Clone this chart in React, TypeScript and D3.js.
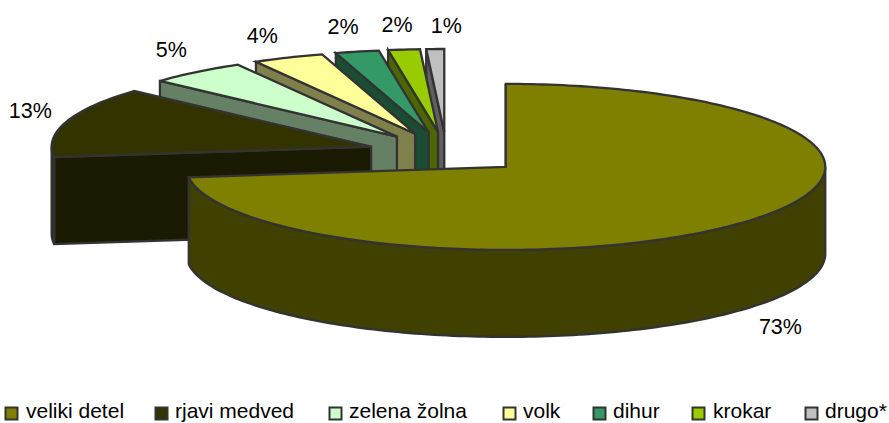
import * as d3 from "d3";

const categories = ["veliki detel", "rjavi medved", "zelena žolna", "volk", "dihur", "krokar", "drugo*"];
const shares = [73.0, 13.7, 5.0, 3.6, 2.2, 1.6, 0.9];
const pctLabels = ["73%", "13%", "5%", "4%", "2%", "2%", "1%"];
const topColors = ["#808000", "#333300", "#ccffcc", "#ffff99", "#339966", "#99cc00", "#c0c0c0"];

// label nudges away from the rim, per slice
const labelNudge = [[35, 18], [-36, -11], [-25, -22], [-26, -22], [-14, -25], [-7, -25], [11, -23]];
const legendSwatchX = [5, 155, 329, 503, 593, 692, 805];
const legendTextX = [26, 175, 349, 523, 613, 713, 825];

const WIDTH = 889;
const HEIGHT = 423;
const RX = 319.5;
const RY = 83;
const DEPTH = 87;
const CENTER = { x: 446.5, y: 153 };
const EXPLODE = { x: 79, y: 21 };
const FONT = "'Liberation Sans', Arial, sans-serif";
const STROKE = "#333333";

const xRim = d3.scaleLinear().domain([-1, 1]).range([-RX, RX]);
const yRim = d3.scaleLinear().domain([-1, 1]).range([-RY, RY]);

const pieGen = d3.pie<number>().sort(null).startAngle(0).endAngle(2 * Math.PI);
const linePath = d3.line<[number, number]>();

function shade(color: string) {
  const c = d3.rgb(color);
  return d3.rgb(c.r * 0.5, c.g * 0.5, c.b * 0.5).formatHex();
}

function rimPoint(apex: { x: number; y: number }, a: number): [number, number] {
  return [apex.x + xRim(Math.sin(a)), apex.y + yRim(-Math.cos(a))];
}

function rimSamples(apex: { x: number; y: number }, a0: number, a1: number) {
  const n = Math.max(2, Math.ceil((a1 - a0) / 0.02));
  return d3.range(n + 1).map((i) => rimPoint(apex, a0 + ((a1 - a0) * i) / n));
}

function down(p: [number, number]): [number, number] {
  return [p[0], p[1] + DEPTH];
}

export default function App() {
  const slices = pieGen(shares).map((s, i) => {
    const mid = (s.startAngle + s.endAngle) / 2;
    const apex = {
      x: CENTER.x + EXPLODE.x * Math.sin(mid),
      y: CENTER.y - EXPLODE.y * Math.cos(mid),
    };
    const rim = rimSamples(apex, s.startAngle, s.endAngle);
    const apexPt: [number, number] = [apex.x, apex.y];

    // outer wall only shows on the front half of the ellipse
    const f0 = Math.max(s.startAngle, Math.PI / 2);
    const f1 = Math.min(s.endAngle, (3 * Math.PI) / 2);
    const front = f1 > f0 ? rimSamples(apex, f0, f1) : null;

    const anchor = rimPoint(apex, mid);
    const midInFront = mid > Math.PI / 2 && mid < (3 * Math.PI) / 2;
    const labelY = midInFront ? anchor[1] + DEPTH : anchor[1];

    return {
      i,
      color: topColors[i],
      wallColor: shade(topColors[i]),
      top: linePath([apexPt, ...rim]) + "Z",
      startWall: linePath([apexPt, rim[0], down(rim[0]), down(apexPt)]) + "Z",
      frontWall: front ? linePath([...front, ...front.map(down).reverse()]) + "Z" : null,
      label: pctLabels[i],
      lx: anchor[0] + labelNudge[i][0],
      ly: labelY + labelNudge[i][1],
    };
  });

  // painter's order, back slices first
  const drawOrder = [...slices].reverse();

  return (
    <svg
      width={WIDTH}
      height={HEIGHT}
      style={{ position: "absolute", left: 0, top: 0 }}
      fontFamily={FONT}
    >
      {drawOrder.map((s) => (
        <g key={s.i} stroke={STROKE} strokeWidth={2.3} strokeLinejoin="miter">
          <path d={s.startWall} fill={s.wallColor} />
          {s.frontWall && <path d={s.frontWall} fill={s.wallColor} />}
          <path d={s.top} fill={s.color} />
        </g>
      ))}

      {slices.map((s) => (
        <text
          key={s.i}
          x={s.lx}
          y={s.ly}
          textAnchor="middle"
          dominantBaseline="central"
          fontSize={21.5}
          fill="#000"
        >
          {s.label}
        </text>
      ))}

      {categories.map((name, i) => (
        <g key={name}>
          <rect
            x={legendSwatchX[i] + 0.5}
            y={407.5}
            width={12}
            height={12}
            fill={topColors[i]}
            stroke={STROKE}
            strokeWidth={2}
          />
          <text x={legendTextX[i]} y={418} fontSize={21} fill="#000">
            {name}
          </text>
        </g>
      ))}
    </svg>
  );
}
